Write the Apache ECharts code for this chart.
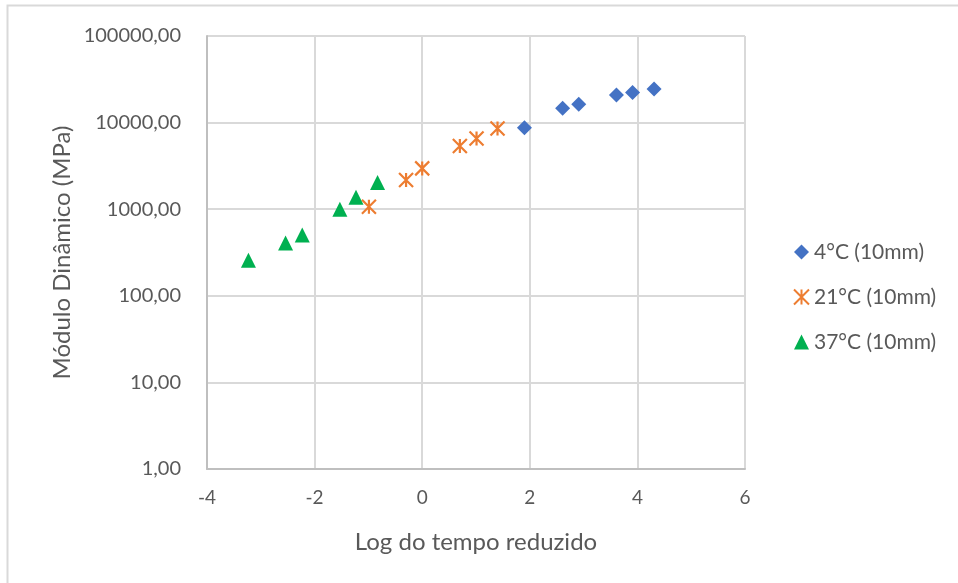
<!DOCTYPE html>
<html><head><meta charset="utf-8">
<script src="https://cdn.jsdelivr.net/npm/echarts@6/dist/echarts.min.js"></script>
<style>html,body{margin:0;padding:0;background:#fff}#c{width:958px;height:583px}</style>
</head><body><div id="c"></div>
<script>
const xTicks = [-4, -2, 0, 2, 4, 6];
const yTicks = [1, 10, 100, 1000, 10000, 100000];
const seriesNames = ['4°C (10mm)', '21°C (10mm)', '37°C (10mm)'];
const x4 = [1.90, 2.61, 2.91, 3.61, 3.91, 4.31];
const y4 = [8700, 14600, 16300, 20800, 22300, 24400];
const x21 = [-0.99, -0.30, 0.00, 0.70, 1.01, 1.40];
const y21 = [1070, 2170, 2960, 5370, 6560, 8570];
const x37 = [-3.23, -2.54, -2.23, -1.53, -1.23, -0.83];
const y37 = [258, 407, 504, 1000, 1370, 2030];

const zip = (a, b) => a.map((v, i) => [v, b[i]]);
const font = 'Lato, "Open Sans", sans-serif';
const txt = '#595959';
const chart = echarts.init(document.getElementById('c'));
chart.setOption({
  animation: false,
  backgroundColor: '#fff',
  graphic: [{type: 'rect', shape: {x: 7.5, y: 5.5, width: 1000, height: 1000}, style: {fill: 'none', stroke: '#d9d9d9', lineWidth: 2}, silent: true}],
  grid: {left: 207, right: 213, top: 36, bottom: 114},
  legend: {
    orient: 'vertical', left: 788, top: 236, itemGap: 23, itemWidth: 15, itemHeight: 15,
    textStyle: {color: txt, fontSize: 21, lineHeight: 22, fontFamily: font},
    data: seriesNames
  },
  xAxis: {
    type: 'value', min: xTicks[0], max: xTicks[xTicks.length - 1], interval: 2,
    name: 'Log do tempo reduzido', nameLocation: 'middle', nameGap: 61, nameMoveOverlap: false,
    nameTextStyle: {color: txt, fontSize: 24, fontFamily: font},
    axisLine: {show: true, onZero: false, lineStyle: {color: '#bfbfbf', width: 2}},
    axisTick: {show: false},
    axisLabel: {color: txt, fontSize: 19, fontFamily: font, margin: 19},
    splitLine: {show: true, lineStyle: {color: '#d9d9d9', width: 2}}
  },
  yAxis: {
    type: 'log', logBase: 10, min: yTicks[0], max: yTicks[yTicks.length - 1],
    name: 'Módulo Dinâmico (MPa)', nameLocation: 'middle', nameGap: 133, nameMoveOverlap: false,
    nameTextStyle: {color: txt, fontSize: 24, fontFamily: font},
    axisLine: {show: true, onZero: false, lineStyle: {color: '#bfbfbf', width: 2}},
    axisTick: {show: false},
    axisLabel: {color: txt, fontSize: 20, fontFamily: font, margin: 26,
      formatter: v => Number(v).toFixed(2).replace('.', ',')},
    splitLine: {show: true, lineStyle: {color: '#d9d9d9', width: 2}}
  },
  series: [
    {name: seriesNames[0], type: 'scatter', data: zip(x4, y4), symbol: 'diamond', symbolSize: 15,
     itemStyle: {color: '#4472C4', opacity: 1}},
    {name: seriesNames[1], type: 'scatter', data: zip(x21, y21),
     symbol: 'path://M0,0L12,12M12,0L0,12M6,0L6,12', symbolSize: 14,
     itemStyle: {color: 'rgba(0,0,0,0)', borderColor: '#ED7D31', borderWidth: 2.2, opacity: 1}},
    {name: seriesNames[2], type: 'scatter', data: zip(x37, y37), symbol: 'triangle', symbolSize: 15,
     itemStyle: {color: '#00B050', opacity: 1}}
  ]
});
</script></body></html>
